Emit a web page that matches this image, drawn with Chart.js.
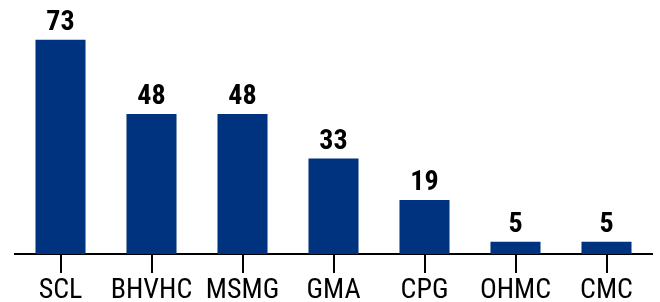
<!DOCTYPE html>
<html>
<head>
<meta charset="utf-8">
<script src="https://cdn.jsdelivr.net/npm/chart.js@4/dist/chart.umd.min.js"></script>
<style>
html,body{margin:0;padding:0;background:#fff;}
#wrap{width:660px;height:302px;}
canvas{display:block;}
</style>
</head>
<body>
<div id="wrap"><canvas id="c" width="660" height="302"></canvas></div>
<script>
const categories = ["SCL", "BHVHC", "MSMG", "GMA", "CPG", "OHMC", "CMC"];
const values = [73, 48, 48, 33, 19, 5, 5];

const FONT = "'Roboto Condensed', 'Liberation Sans Narrow', 'DejaVu Sans Condensed', Roboto, sans-serif";

const textPlugin = {
  id: 'textPlugin',
  afterDraw(chart) {
    const ctx = chart.ctx;
    const meta = chart.getDatasetMeta(0);
    const xs = chart.scales.x;
    const y0 = chart.chartArea.bottom;
    ctx.save();
    // tick marks
    ctx.fillStyle = '#000';
    categories.forEach((c, i) => {
      const x = Math.round(xs.getPixelForValue(i));
      ctx.fillRect(x - 1, y0, 2, 19);
    });
    // value labels above bars
    ctx.font = "bold 28px " + FONT;
    ctx.textAlign = 'center';
    ctx.textBaseline = 'alphabetic';
    meta.data.forEach((bar, i) => {
      ctx.fillText(String(values[i]), bar.x, bar.y - 10);
    });
    // category labels
    ctx.font = "28px " + FONT;
    categories.forEach((c, i) => {
      ctx.fillText(c, xs.getPixelForValue(i), y0 + 44);
    });
    ctx.restore();
  }
};

new Chart(document.getElementById('c'), {
  type: 'bar',
  data: {
    labels: categories,
    datasets: [{
      data: values,
      backgroundColor: '#00337F',
      borderWidth: 0,
      barPercentage: 0.55,
      categoryPercentage: 1.0
    }]
  },
  options: {
    responsive: false,
    animation: false,
    devicePixelRatio: 1,
    layout: { padding: { left: 15, right: 8, top: 10, bottom: 0 } },
    plugins: { legend: { display: false }, tooltip: { enabled: false } },
    scales: {
      y: { display: false, min: 0.85, max: 83 },
      x: {
        afterFit: (s) => { s.height = 48; },
        grid: { display: false },
        border: { display: true, color: '#000', width: 2 },
        ticks: { display: false }
      }
    }
  },
  plugins: [textPlugin]
});
</script>
</body>
</html>
